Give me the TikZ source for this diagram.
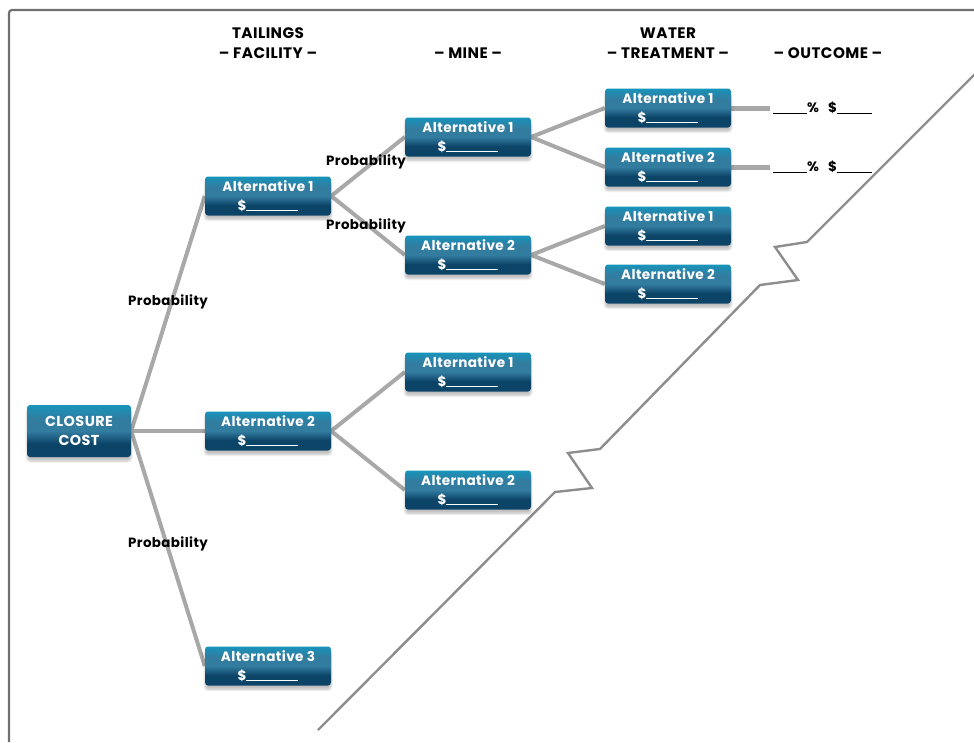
\documentclass[tikz,border=0pt]{standalone}
\usepackage{fontspec}
\setmainfont{Poppins}[LetterSpace=3]
\usetikzlibrary{shadows.blur,backgrounds}

\definecolor{boxtop}{RGB}{24,148,186}
\definecolor{boxmid}{RGB}{50,124,160}
\definecolor{boxbot}{RGB}{12,68,104}
\definecolor{wire}{RGB}{168,168,168}
\definecolor{frame}{RGB}{112,112,112}

\pgfdeclareverticalshading{altshade}{100bp}{%
  color(0bp)=(boxbot); color(38bp)=(boxbot); color(50bp)=(boxmid);
  color(62bp)=(boxmid); color(75bp)=(boxtop); color(100bp)=(boxtop)}

\tikzset{
  altbox/.style={rounded corners=3pt, shading=altshade, minimum width=126pt,
    minimum height=39pt, inner sep=0pt, align=center, text=white,
    font=\bfseries\fontsize{13.6}{19}\selectfont,
    blur shadow={shadow xshift=0pt, shadow yshift=-4pt, shadow opacity=25,
      shadow blur steps=6}},
  header/.style={font=\bfseries\fontsize{15.2}{20}\selectfont, align=center},
  prob/.style={font=\bfseries\fontsize{13.4}{14}\selectfont, inner sep=1pt},
  outcome/.style={font=\bfseries\fontsize{13.6}{15}\selectfont, anchor=west, inner sep=0pt},
  wireline/.style={draw=wire, line width=4pt},
  stub/.style={draw=wire, line width=5pt},
  cutline/.style={draw=frame!80, line width=2.4pt, line join=miter},
}
\newcommand{\blank}[1]{\rule[-1pt]{#1}{1pt}}
\newcommand{\money}{\$\blank{52pt}}

\begin{document}
\begin{tikzpicture}[x=1pt, y=-1pt]
\useasboundingbox (0,0) rectangle (974,742);

% frame along the top and left edges
\draw[draw=frame, line width=2.2pt, rounded corners=3pt] (9,742) -- (9,10) -- (974,10);

% column headings
\node[header] (h1) at (268,43) {TAILINGS\\– FACILITY –};
\node[header] (h2) at (468,53) {– MINE –};
\node[header] (h3) at (668,43) {WATER\\– TREATMENT –};
\node[header] (h4) at (828,53) {– OUTCOME –};

% decision tree boxes
\node[altbox, minimum width=104pt, minimum height=52pt,
      font=\bfseries\fontsize{14.4}{19}\selectfont] (cc) at (79,431) {CLOSURE\\COST};

\node[altbox] (t1) at (268,196) {Alternative 1\\\money};
\node[altbox] (t2) at (268,431) {Alternative 2\\\money};
\node[altbox] (t3) at (268,666) {Alternative 3\\\money};

\node[altbox] (m11) at (468,137) {Alternative 1\\\money};
\node[altbox] (m12) at (468,255) {Alternative 2\\\money};
\node[altbox] (m21) at (468,372) {Alternative 1\\\money};
\node[altbox] (m22) at (468,490) {Alternative 2\\\money};

\node[altbox] (w111) at (668,108) {Alternative 1\\\money};
\node[altbox] (w112) at (668,167) {Alternative 2\\\money};
\node[altbox] (w121) at (668,226) {Alternative 1\\\money};
\node[altbox] (w122) at (668,284) {Alternative 2\\\money};

% outcome blanks
\node[outcome] (o1) at (773,108) {\blank{34pt}\%\hspace{9pt}\$\blank{35pt}};
\node[outcome] (o2) at (773,167) {\blank{34pt}\%\hspace{9pt}\$\blank{35pt}};

% branches
\begin{pgfonlayer}{background}
  \draw[wireline] (cc.east) -- (t1.west);
  \draw[wireline] (cc.east) -- (t2.west);
  \draw[wireline] (cc.east) -- (t3.west);
  \draw[wireline] (t1.east) -- (m11.west);
  \draw[wireline] (t1.east) -- (m12.west);
  \draw[wireline] (t2.east) -- (m21.west);
  \draw[wireline] (t2.east) -- (m22.west);
  \draw[wireline] (m11.east) -- (w111.west);
  \draw[wireline] (m11.east) -- (w112.west);
  \draw[wireline] (m12.east) -- (w121.west);
  \draw[wireline] (m12.east) -- (w122.west);
  \draw[stub] (w111.east) -- ([xshift=-3pt]o1.west);
  \draw[stub] (w112.east) -- ([xshift=-3pt]o2.west);
\end{pgfonlayer}

% branch probabilities
\node[prob] (p1) at (168,302) {Probability};
\node[prob] (p2) at (168,544) {Probability};
\node[prob] (p3) at (366,162) {Probability};
\node[prob] (p4) at (366,226) {Probability};

% broken cut-off line
\draw[cutline] (318,730) -- (555,492) -- (592,488) -- (568,453) -- (600,449)
  -- (760,285) -- (798,280) -- (775,247) -- (807,242) -- (975,74);
\end{tikzpicture}
\end{document}
